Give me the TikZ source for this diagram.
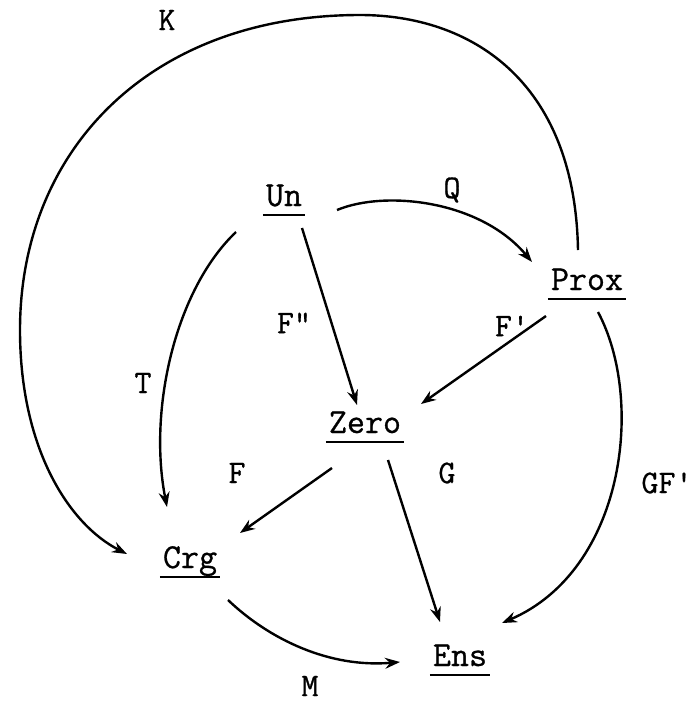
\documentclass[tikz,border=0pt]{standalone}
\usepackage{fontspec}
\newfontfamily\tw[FakeBold=0.8]{Latin Modern Mono}
\usetikzlibrary{arrows.meta}
\tikzset{
  obj/.style={anchor=base, inner sep=0pt, font=\tw\fontsize{35}{37}\selectfont},
  lbl/.style={inner sep=0pt, font=\tw\fontsize{33}{35}\selectfont},
  arr/.style={line width=2.4pt, -{Stealth[open, length=15pt, width=11pt, line width=2.2pt, inset=5pt]}},
  ul/.style={line width=2.8pt}
}
\begin{document}
\begin{tikzpicture}[x=1pt,y=-1pt]
\useasboundingbox (0,0) rectangle (699,705);
% objects
\node[obj] (un) at (284,206) {Un};
\node[obj] (prox) at (587,290) {Prox};
\node[obj] (zero) at (365,433) {Zero};
\node[obj] (crg) at (190,568) {Crg};
\node[obj] (ens) at (460,666) {Ens};
\foreach \n in {un,prox,zero,crg,ens}
  \draw[ul] ([xshift=-3pt,yshift=-9pt]\n.base west) -- ([xshift=3pt,yshift=-9pt]\n.base east);
% endpoints
\coordinate (qs) at (337,210);
\coordinate (qe) at (532,262);
\coordinate (ts) at (236,232);
\coordinate (te) at (167,507);
\coordinate (ks) at (578,250);
\coordinate (ke) at (127,554);
\coordinate (gs) at (598,312);
\coordinate (ge) at (502,623);
\coordinate (ms) at (228,600);
\coordinate (me) at (400,662);
\coordinate (f2s) at (302,228);
\coordinate (f2e) at (357,405);
\coordinate (f1s) at (546,316);
\coordinate (f1e) at (421,404);
\coordinate (fs) at (332,468);
\coordinate (fe) at (240,533);
\coordinate (gzs) at (388,460);
\coordinate (gze) at (440,622);
% connectors
\draw[arr] (qs) .. controls (385,190) and (480,200) .. (qe);
\draw[arr] (ts) .. controls (175,290) and (148,410) .. (te);
\draw[arr] (ks) .. controls (575,80) and (470,15) .. (360,15)
  .. controls (150,15) and (20,150) .. (20,330)
  .. controls (20,450) and (70,525) .. (ke);
\draw[arr] (gs) .. controls (645,400) and (625,570) .. (ge);
\draw[arr] (ms) .. controls (270,640) and (330,668) .. (me);
\draw[arr] (f2s) -- (f2e);
\draw[arr] (f1s) -- (f1e);
\draw[arr] (fs) -- (fe);
\draw[arr] (gzs) -- (gze);
% labels
\node[lbl] (lk) at (167,20) {K};
\node[lbl] (lq) at (452,190) {Q};
\node[lbl] (lt) at (143,383) {T};
\node[lbl] (lf2) at (294,323) {F"};
\node[lbl] (lf1) at (512,326) {F'};
\node[lbl] (lgf) at (667,483) {GF'};
\node[lbl] (lf) at (237,473) {F};
\node[lbl] (lg) at (447,473) {G};
\node[lbl] (lm) at (310,686) {M};
\end{tikzpicture}
\end{document}
